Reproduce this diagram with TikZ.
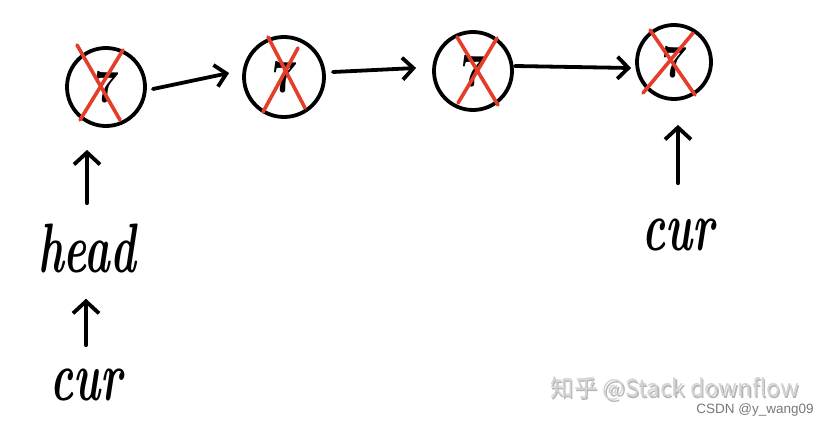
\documentclass[tikz,border=0pt]{standalone}
\usepackage{fontspec}
\usetikzlibrary{arrows.meta,calc}
\newfontfamily\cjkfont{Noto Sans CJK SC}
\newfontfamily\wmfont{Liberation Sans}
\definecolor{xred}{RGB}{228,62,42}
\definecolor{wmgray}{RGB}{212,212,212}
\definecolor{wmdark}{RGB}{120,120,120}
\tikzset{
  listnode/.style={circle,draw=black,line width=3.8pt,inner sep=0pt,font=\fontsize{46}{46}\selectfont\bfseries},
  redx/.style={draw=xred,line width=3.6pt,line cap=round},
  link/.style={line width=3.8pt,line cap=round,-{Straight Barb[length=11pt,width=22pt,line width=3.8pt]}},
  uparrow/.style={line width=3.8pt,line cap=round,-{Straight Barb[length=12pt,width=26pt,line width=3.8pt]}},
  hand/.style={inner sep=0pt,anchor=base,xscale=0.62,font=\fontsize{70}{70}\selectfont\bfseries\itshape},
}
\begin{document}
\begin{tikzpicture}[x=1pt,y=-1pt]
\useasboundingbox[fill=white] (0,0) rectangle (826,425);
% list nodes
\node[listnode,minimum size=78pt] (n1) at (106,87) {7};
\node[listnode,minimum size=80pt] (n2) at (284,77) {7};
\node[listnode,minimum size=78pt] (n3) at (473,71) {7};
\node[listnode,minimum size=74pt] (n4) at (674,62) {7};
% red crosses
\draw[redx] ($(n1)+(-29,-42)$) -- ($(n1)+(14,33)$);
\draw[redx] ($(n1)+(17,-37)$) -- ($(n1)+(-26,33)$);
\draw[redx] ($(n2)+(-16,-40)$) -- ($(n2)+(21,31)$);
\draw[redx] ($(n2)+(14,-29)$) -- ($(n2)+(-21,35)$);
\draw[redx] ($(n3)+(-16,-34)$) -- ($(n3)+(25,34)$);
\draw[redx] ($(n3)+(24,-33)$) -- ($(n3)+(-15,32)$);
\draw[redx] ($(n4)+(-24,-32)$) -- ($(n4)+(21,33)$);
\draw[redx] ($(n4)+(19,-29)$) -- ($(n4)+(-31,31)$);
% links
\draw[link] ($(n1.east)+(6,2)$) -- ($(n2.west)+(-13,-4)$);
\draw[link] ($(n2.east)+(7,-5)$) -- ($(n3.west)+(-16,-3)$);
\draw[link] ($(n3.east)+(1,-5)$) -- ($(n4.west)+(-4,6)$);
% labels
\node[hand] (h) at (87,272) {head};
\node[hand] (c1) at (86,400) {cur};
\node[hand] (c2) at (678,250) {cur};
% pointer arrows
\draw[uparrow,shorten <=20pt,shorten >=22pt] (h.north) -- (h.north |- n1.south);
\draw[uparrow,shorten <=23pt,shorten >=26pt] (c1.north) -- (c1.north |- h.south);
\draw[uparrow,shorten <=35pt,shorten >=24pt] (c2.north) -- (c2.north |- n4.south);
% watermark
\node[text=wmdark!55,inner sep=0pt,font=\cjkfont\fontsize{23.5}{23.5}\selectfont] (wms) at (676.3,390.3) {知乎 @Stack downflow};
\node[text=wmgray,inner sep=0pt,font=\cjkfont\fontsize{23.5}{23.5}\selectfont] (wm) at (675,389) {知乎 @Stack downflow};
\node[text=wmdark,inner sep=0pt,font=\wmfont\fontsize{13.5}{13.5}\selectfont] (csdn) at (755,410) {CSDN @y\_wang09};
\end{tikzpicture}
\end{document}
